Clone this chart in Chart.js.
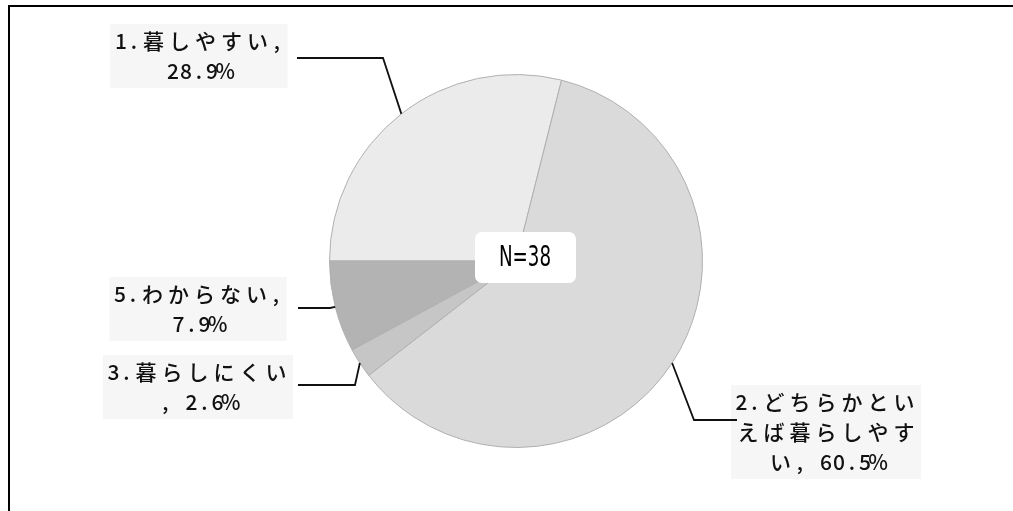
<html style="font-family:Arial,sans-serif;">
<head>
	<meta charset="utf-8">
	<title>暮らしやすさ</title>
	<style>
		body{margin:0;background:#fff;}
		#wrap{position:relative;width:1013px;height:511px;}
		#frame{position:absolute;left:8px;top:5px;width:1005px;height:506px;box-sizing:border-box;border-top:2px solid #000;border-left:2px solid #000;pointer-events:none;}
	</style>
	<script src="https://cdn.jsdelivr.net/npm/chart.js@4"></script>
</head>
<body>
<div id="wrap">
	<canvas id="ctx" width="1013" height="511"></canvas>
	<div id="frame"></div>
</div>
<script>
	// data
	var categories = ['1.暮しやすい', '2.どちらかといえば暮らしやすい', '3.暮らしにくい', '5.わからない'];
	var values = [28.9, 60.5, 2.6, 7.9];
	var sliceColors = ['#ebebeb', '#dadada', '#c6c6c6', '#b3b3b3'];
	var centerText = 'N=38';

	// where each data label sits (centre x, first line y) and how its leader bends
	var labelPos = [
		{cx: 199, y: 41, elbow: [383, 58], endX: 297},
		{cx: 826, y: 402, elbow: [694, 420], endX: 737},
		{cx: 198, y: 372, elbow: [355, 385], endX: 298},
		{cx: 198, y: 294, elbow: [330, 308], endX: 298}
	];
	var FULL = 26, HALF = 13, WRAP = 190, LINE_H = 30;

	function charW(c){ return c.charCodeAt(0) < 0x100 ? HALF : FULL; }

	// wrap a label char by char, like the old office chart did
	function wrapText(txt){
		var lines = [], cur = '', w = 0;
		for(var i=0;i<txt.length;i++){
			var c = txt[i], cw = charW(c);
			if(w + cw > WRAP && cur.length){
				lines.push(cur.trim());
				cur = ''; w = 0;
				if(c == ' ') continue;
			}
			cur += c; w += cw;
		}
		if(cur.trim().length) lines.push(cur.trim());
		return lines;
	}
	function lineW(s){ var w=0; for(var i=0;i<s.length;i++) w+=charW(s[i]); return w; }

	var labelPlugin = {
		id: 'pieLabels',
		afterDatasetsDraw: function(chart){
			var c = chart.ctx;
			var arcs = chart.getDatasetMeta(0).data;
			c.save();
			for(var i=0;i<arcs.length;i++){
				var a = arcs[i].getProps(['x','y','startAngle','endAngle','outerRadius'], true);
				var mid = (a.startAngle + a.endAngle) / 2;
				var sx = a.x + Math.cos(mid) * a.outerRadius;
				var sy = a.y + Math.sin(mid) * a.outerRadius;
				var p = labelPos[i];
				var lines = wrapText(categories[i] + ', ' + values[i].toFixed(1) + '%');
				// faint label box
				var maxW = 0;
				lines.forEach(function(l){ maxW = Math.max(maxW, lineW(l)); });
				c.fillStyle = '#f6f6f6';
				c.fillRect(p.cx - maxW/2 - 4, p.y - 17, maxW + 8, lines.length * LINE_H + 4);
				// leader line
				c.strokeStyle = '#111';
				c.lineWidth = 1.8;
				c.beginPath();
				c.moveTo(sx, sy);
				c.lineTo(p.elbow[0], p.elbow[1]);
				c.lineTo(p.endX, p.elbow[1]);
				c.stroke();
				// text
				c.fillStyle = '#111';
				c.font = '500 21px "Noto Sans CJK JP", sans-serif';
				c.textAlign = 'center';
				c.textBaseline = 'middle';
				for(var j=0;j<lines.length;j++){
					var x = p.cx - lineW(lines[j]) / 2;
					for(var k=0;k<lines[j].length;k++){
						var ch = lines[j][k], cw = charW(ch);
						c.fillText(ch, x + cw/2, p.y + j * LINE_H);
						x += cw;
					}
				}
			}
			// N=38 box in the middle
			var m = arcs[0];
			var bx = m.x - 41, by = m.y - 29;
			c.fillStyle = '#fff';
			c.beginPath();
			c.roundRect(bx, by, 101, 51, 7);
			c.fill();
			c.fillStyle = '#000';
			c.font = '29px "DejaVu Sans", sans-serif';
			c.translate(bx + 50, by + 26);
			c.scale(0.63, 1);   // the original uses a narrow face
			c.fillText(centerText, 0, 0);
			c.restore();
		}
	};

	var ctx = document.getElementById('ctx');
	var myPieChart = new Chart(ctx, {
		type: 'pie',
		data: {
			labels: categories,
			datasets: [{
				data: values,
				backgroundColor: sliceColors,
				borderColor: '#b0b0b0',
				borderWidth: 1
			}]
		},
		options: {
			responsive: false,
			animation: false,
			rotation: -90,
			layout: {padding: {left: 329, right: 310, top: 74, bottom: 63}},
			plugins: {legend: {display: false}, tooltip: {enabled: false}}
		},
		plugins: [labelPlugin]
	});
</script>
</body>
</html>
